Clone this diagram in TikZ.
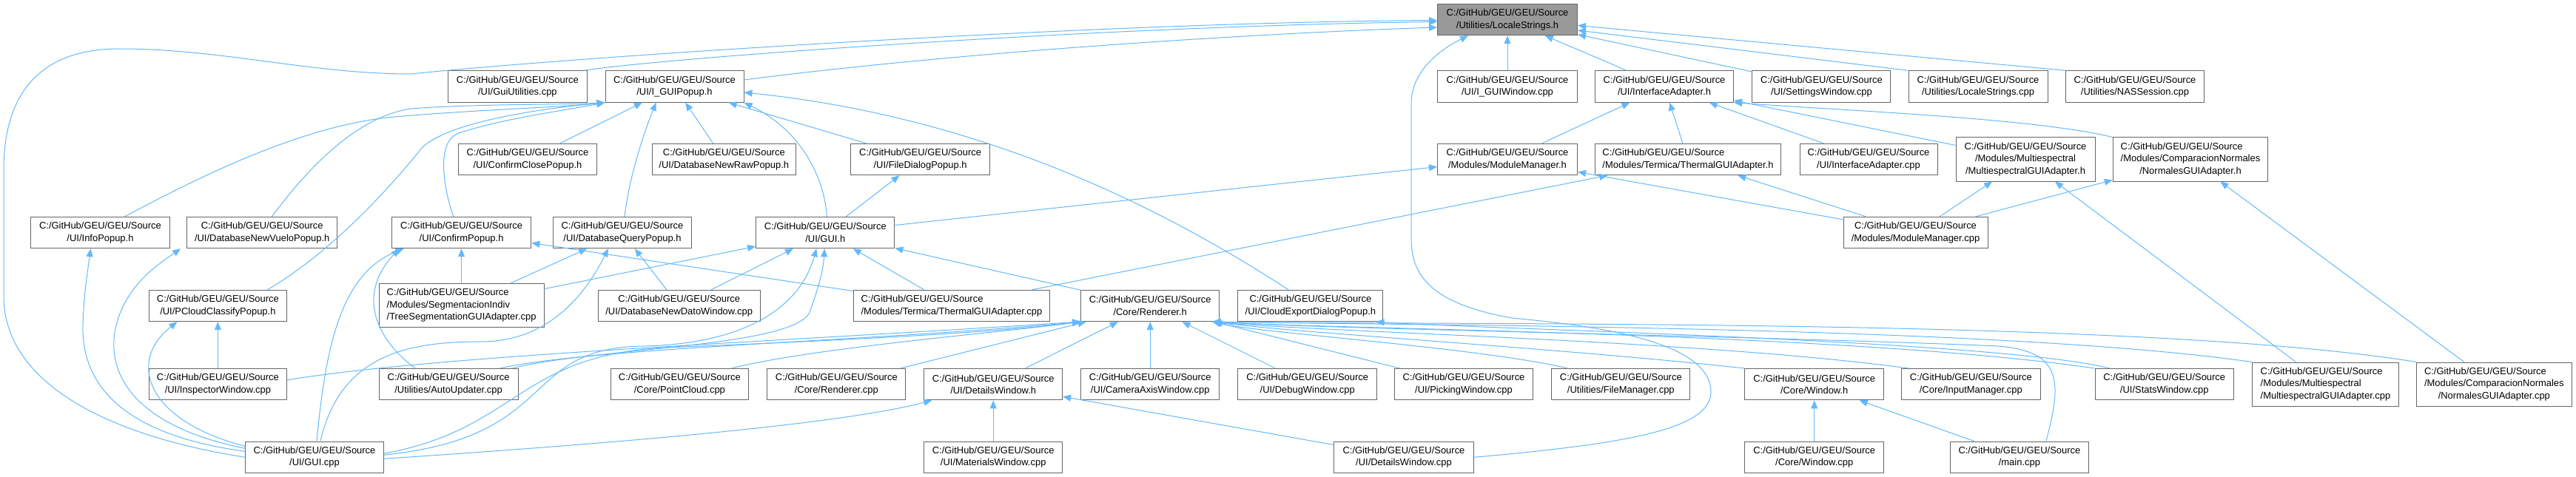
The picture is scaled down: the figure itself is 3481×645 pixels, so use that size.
\documentclass[tikz,border=0pt]{standalone}
\usepackage{fontspec}
\usepackage{calc}
\setmainfont{Liberation Sans}
\usetikzlibrary{arrows.meta}
\definecolor{edgec}{HTML}{63B8FF}
\definecolor{boxc}{HTML}{666666}
\definecolor{fillL}{HTML}{999999}
\tikzset{
  box/.style={draw=boxc, fill=white, line width=1bp, inner sep=0pt, minimum height=42.4bp, align=center, font=\fontsize{13}{16.7}\selectfont},
  boxthree/.style={box, minimum height=59bp},
  edge/.style={draw=edgec, line width=1bp, -{Triangle[length=11bp,width=9bp]}}
}
\newcommand{\pth}{C:/GitHub/GEU/GEU/Source}
\begin{document}
\begin{tikzpicture}[x=1bp,y=-1bp]
\useasboundingbox (0,0) rectangle (3481,645);
% row 0
\node[box, fill=fillL, minimum width=189bp] (L) at (2037,26.5) {\pth\\/Utilities/LocaleStrings.h};
% row 1
\node[box, minimum width=188bp] (GU) at (699.4,117) {\pth\\/UI/GuiUtilities.cpp};
\node[box, minimum width=187bp] (P) at (911.5,117) {\pth\\/UI/I\_GUIPopup.h};
\node[box, minimum width=189bp] (IW) at (2037,117) {\pth\\/UI/I\_GUIWindow.cpp};
\node[box, minimum width=187bp] (IA) at (2249,117) {\pth\\/UI/InterfaceAdapter.h};
\node[box, minimum width=187bp] (SW) at (2461.4,117) {\pth\\/UI/SettingsWindow.cpp};
\node[box, minimum width=188bp] (LC) at (2673,117) {\pth\\/Utilities/LocaleStrings.cpp};
\node[box, minimum width=186.6bp] (NAS) at (2885,117) {\pth\\/Utilities/NASSession.cpp};
% row 2
\node[box, minimum width=187.3bp] (CCP) at (713,215.5) {\pth\\/UI/ConfirmClosePopup.h};
\node[box, minimum width=194.6bp] (DNR) at (978.3,215.5) {\pth\\/UI/DatabaseNewRawPopup.h};
\node[box, minimum width=188.3bp] (FDP) at (1243.6,215.5) {\pth\\/UI/FileDialogPopup.h};
\node[box, minimum width=189bp] (MMH) at (2037,215.5) {\pth\\/Modules/ModuleManager.h};
\node[box, minimum width=251bp, align=left] (TGH) at (2281,215.5) {\pth\\/Modules/Termica/ThermalGUIAdapter.h};
\node[box, minimum width=186bp] (IAC) at (2525,215.5) {\pth\\/UI/InterfaceAdapter.cpp};
\node[boxthree, minimum width=188bp] (MGH) at (2737,215.5) {\pth\\/Modules/Multiespectral\\/MultiespectralGUIAdapter.h};
\node[boxthree, minimum width=209.5bp] (NGH) at (2960,215.5) {\makebox[\widthof{/Modules/ComparacionNormales}][l]{\pth}\\/Modules/ComparacionNormales\\/NormalesGUIAdapter.h};
% row 3
\node[box, minimum width=187.7bp] (IP) at (135.5,314.5) {\pth\\/UI/InfoPopup.h};
\node[box, minimum width=202.8bp] (DNV) at (354.2,314.5) {\pth\\/UI/DatabaseNewVueloPopup.h};
\node[box, minimum width=188.4bp] (CP) at (623.6,314.5) {\pth\\/UI/ConfirmPopup.h};
\node[box, minimum width=187.8bp] (DQ) at (841,314.5) {\pth\\/UI/DatabaseQueryPopup.h};
\node[box, minimum width=187.2bp] (G) at (1115.3,314.5) {\pth\\/UI/GUI.h};
\node[box, minimum width=195bp] (MMC) at (2588.5,314.5) {\pth\\/Modules/ModuleManager.cpp};
% row 4
\node[box, minimum width=186.8bp] (PCC) at (294.4,413.4) {\pth\\/UI/PCloudClassifyPopup.h};
\node[boxthree, minimum width=222.8bp, align=left] (TS) at (623.6,413) {\pth\\/Modules/SegmentacionIndiv\\/TreeSegmentationGUIAdapter.cpp};
\node[box, minimum width=218.7bp] (DND) at (917.7,413.4) {\pth\\/UI/DatabaseNewDatoWindow.cpp};
\node[box, minimum width=265.6bp, align=left] (TGC) at (1286,413.4) {\pth\\/Modules/Termica/ThermalGUIAdapter.cpp};
\node[box, minimum width=187.2bp] (RH) at (1554.2,413.4) {\pth\\/Core/Renderer.h};
\node[box, minimum width=196.1bp] (CE) at (1770.9,413.4) {\pth\\/UI/CloudExportDialogPopup.h};
% row 5
\node[box, minimum width=186.8bp] (INS) at (294.4,519.7) {\pth\\/UI/InspectorWindow.cpp};
\node[box, minimum width=187.8bp] (AU) at (606.1,519.7) {\pth\\/Utilities/AutoUpdater.cpp};
\node[box, minimum width=186.7bp] (PC) at (918.4,519.7) {\pth\\/Core/PointCloud.cpp};
\node[box, minimum width=187.2bp] (RC) at (1130.3,519.7) {\pth\\/Core/Renderer.cpp};
\node[box, minimum width=186.7bp] (DWH) at (1342.2,519.7) {\pth\\/UI/DetailsWindow.h};
\node[box, minimum width=187.2bp] (CAW) at (1554.2,519.7) {\pth\\/UI/CameraAxisWindow.cpp};
\node[box, minimum width=187.8bp] (DBW) at (1766.7,519.7) {\pth\\/UI/DebugWindow.cpp};
\node[box, minimum width=187.3bp] (PW) at (1978,519.7) {\pth\\/UI/PickingWindow.cpp};
\node[box, minimum width=187.2bp] (FM) at (2190.3,519.7) {\pth\\/Utilities/FileManager.cpp};
\node[box, minimum width=187.8bp] (WH) at (2451.7,519.7) {\pth\\/Core/Window.h};
\node[box, minimum width=187.8bp] (IM) at (2663.3,519.7) {\pth\\/Core/InputManager.cpp};
\node[box, minimum width=187.2bp] (ST) at (2924.7,519.7) {\pth\\/UI/StatsWindow.cpp};
\node[boxthree, minimum width=198.4bp, align=left] (MGC) at (3142.5,519.5) {\pth\\/Modules/Multiespectral\\/MultiespectralGUIAdapter.cpp};
\node[boxthree, minimum width=209.4bp] (NGC) at (3370.3,519.5) {\makebox[\widthof{/Modules/ComparacionNormales}][l]{\pth}\\/Modules/ComparacionNormales\\/NormalesGUIAdapter.cpp};
% row 6
\node[box, minimum width=186.6bp] (GC) at (425,618.3) {\pth\\/UI/GUI.cpp};
\node[box, minimum width=186.7bp] (MW) at (1342.2,618.3) {\pth\\/UI/MaterialsWindow.cpp};
\node[box, minimum width=188.3bp] (DWC) at (1897,618.3) {\pth\\/UI/DetailsWindow.cpp};
\node[box, minimum width=187.8bp] (WC) at (2451.7,618.3) {\pth\\/Core/Window.cpp};
\node[box, minimum width=187.8bp] (MC) at (2728.9,618.3) {\pth\\/main.cpp};

% ---- edges into LocaleStrings.h
\draw[edge] (GC.west) .. controls (150,590) and (5,520) .. (5,400) -- (5,230) .. controls (5,120) and (60,66) .. (161,66) .. controls (300,66) and (420,100) .. (555,100) .. controls (800,75) and (1500,30) .. ([yshift=-1bp]L.west);
\draw[edge] ([xshift=-5bp]GU.north east) .. controls (900,78) and (1500,35) .. ([yshift=-3bp]L.west);
\draw[edge] ([yshift=9bp]P.east) .. controls (1300,70) and (1700,45) .. ([yshift=-10.5bp]L.west);
\draw[edge] (IW) -- (L);
\draw[edge] (IA) -- (L);
\draw[edge] (SW) -- (L);
\draw[edge] (LC.north west) -- ([yshift=-14.5bp]L.east);
\draw[edge] (NAS.north west) -- ([yshift=-8bp]L.east);
\draw[edge] (DWC.east) .. controls (2200,600) and (2312,580) .. (2312,530) .. controls (2312,460) and (2150,440) .. (2043,430) .. controls (1930,410) and (1907,370) .. (1907,322) -- (1907,140) .. controls (1907,100) and (1940,70) .. ([xshift=-53bp]L.south);
% ---- edges into I_GUIPopup.h
\draw[edge] ([xshift=33bp]IP.north) .. controls (250,250) and (400,170) .. (533,158) .. controls (650,148) and (760,145) .. (P.south west);
\draw[edge] ([xshift=13bp]DNV.north) .. controls (400,250) and (470,160) .. (555,147) .. controls (650,140) and (760,142) .. (P.south west);
\draw[edge] ([xshift=67bp]PCC.north) .. controls (450,340) and (530,250) .. (570,200) .. controls (600,170) and (700,150) .. (P.south west);
\draw[edge] ([xshift=-11bp]CP.north) .. controls (598,250) and (590,190) .. (620,180) .. controls (680,160) and (760,150) .. (P.south west);
\draw[edge] (CCP) -- (P);
\draw[edge] ([xshift=3bp]DQ.north) .. controls (850,240) and (870,180) .. ([xshift=-25bp]P.south);
\draw[edge] (DNR) -- (P);
\draw[edge] (FDP) -- (P);
\draw[edge] ([xshift=2bp]G.north) .. controls (1115,250) and (1090,180) .. (P.south east);
\draw[edge] ([xshift=-30bp]CE.north) .. controls (1600,300) and (1350,160) .. ([yshift=-8bp]P.east);
% ---- GUI.h
\draw[edge] (G) -- (FDP);
\draw[edge] (G) -- (MMH);
\draw[edge] (TS) -- (G);
\draw[edge] (DND) -- (G);
\draw[edge] ([yshift=3bp]GC.east) .. controls (760,590) and (700,470) .. (870,468) .. controls (1000,465) and (1080,420) .. ([xshift=-12bp]G.south);
\draw[edge] ([xshift=-8bp]AU.north east) .. controls (800,470) and (1080,470) .. (1095,420) .. controls (1105,390) and (1112,370) .. ([xshift=-1bp]G.south);
\draw[edge] (TGC) -- (G);
\draw[edge] (RH) -- (G);
% ---- ConfirmPopup.h
\draw[edge] (TS) -- (CP);
\draw[edge] ([xshift=3bp]GC.north) .. controls (440,470) and (460,370) .. ([xshift=-78bp]CP.south);
\draw[edge] ([xshift=-45bp]AU.north) .. controls (510,460) and (480,400) .. ([xshift=-84bp]CP.south);
\draw[edge] (TGC) -- (CP);
% ---- DatabaseQueryPopup.h
\draw[edge] (TS) -- (DQ);
\draw[edge] ([xshift=8bp]GC.north) .. controls (460,480) and (550,462) .. (650,462) .. controls (740,462) and (790,400) .. ([xshift=-19bp]DQ.south);
\draw[edge] (DND) -- (DQ);
% ---- InfoPopup, DatabaseNewVueloPopup, PCloudClassifyPopup
\draw[edge] ([yshift=8bp]GC.west) .. controls (180,590) and (110,530) .. (112,440) .. controls (113,400) and (118,370) .. ([xshift=-13bp]IP.south);
\draw[edge] ([yshift=12bp]GC.west) .. controls (200,580) and (145,520) .. (155,450) .. controls (165,390) and (210,360) .. ([xshift=-110bp]DNV.south);
\draw[edge] ([yshift=15bp]GC.west) .. controls (200,570) and (170,490) .. ([xshift=-55bp]PCC.south);
\draw[edge] (INS) -- (PCC);
% ---- Renderer.h
\draw[edge] ([yshift=6bp]INS.east) .. controls (600,480) and (1000,465) .. (RH.south west);
\draw[edge] ([xshift=-25bp]AU.north east) .. controls (800,470) and (1200,460) .. (RH.south west);
\draw[edge] ([yshift=5bp]GC.east) .. controls (700,580) and (700,480) .. (900,470) .. controls (1100,462) and (1350,450) .. (RH.south west);
\draw[edge] ([xshift=70bp]PC.north) .. controls (1100,470) and (1350,450) .. (RH.south west);
\draw[edge] (RC) -- (RH);
\draw[edge] (DWH) -- (RH);
\draw[edge] (CAW) -- (RH);
\draw[edge] (DBW) -- (RH);
\draw[edge] (PW) -- (RH);
\draw[edge] ([xshift=-72bp]FM.north) .. controls (2000,470) and (1700,450) .. ([xshift=-10bp]RH.south east);
\draw[edge] (WH.north west) .. controls (2100,470) and (1750,450) .. ([xshift=-10bp]RH.south east);
\draw[edge] ([xshift=10bp]IM.north west) .. controls (2300,460) and (1800,450) .. ([xshift=-10bp]RH.south east);
\draw[edge] (ST.north west) .. controls (2500,450) and (1800,445) .. ([xshift=-10bp]RH.south east);
\draw[edge] (MGC.north west) .. controls (2700,440) and (1900,440) .. ([xshift=-10bp]RH.south east);
\draw[edge] (NGC.north west) .. controls (2900,430) and (2000,440) .. ([xshift=-10bp]RH.south east);
\draw[edge] ([xshift=36bp]MC.north) .. controls (2785,520) and (2790,475) .. (2700,468) .. controls (2400,455) and (1800,445) .. ([xshift=-10bp]RH.south east);
\draw[edge] ([xshift=20bp]ST.north west) .. controls (2700,460) and (2000,445) .. ([xshift=-10bp]CE.south east);
% ---- DetailsWindow.h
\draw[edge] ([yshift=-2bp]GC.east) .. controls (900,595) and (1150,570) .. ([xshift=-83bp]DWH.south);
\draw[edge] (MW) -- (DWH);
\draw[edge] (DWC) -- (DWH);
% ---- Window.h
\draw[edge] (WC) -- (WH);
\draw[edge] (MC) -- (WH);
% ---- InterfaceAdapter.h and modules
\draw[edge] (MMH) -- (IA);
\draw[edge] (TGH) -- (IA);
\draw[edge] (IAC) -- (IA);
\draw[edge] (MGH) -- (IA);
\draw[edge] (NGH.north west) .. controls (2750,160) and (2500,150) .. (IA.south east);
\draw[edge] (MMC) -- (MMH);
\draw[edge] (MMC) -- (TGH);
\draw[edge] (MMC) -- (MGH);
\draw[edge] (MMC) -- (NGH);
\draw[edge] (TGC) -- (TGH);
\draw[edge] (MGC) -- (MGH);
\draw[edge] (NGC) -- (NGH);
\end{tikzpicture}
\end{document}
